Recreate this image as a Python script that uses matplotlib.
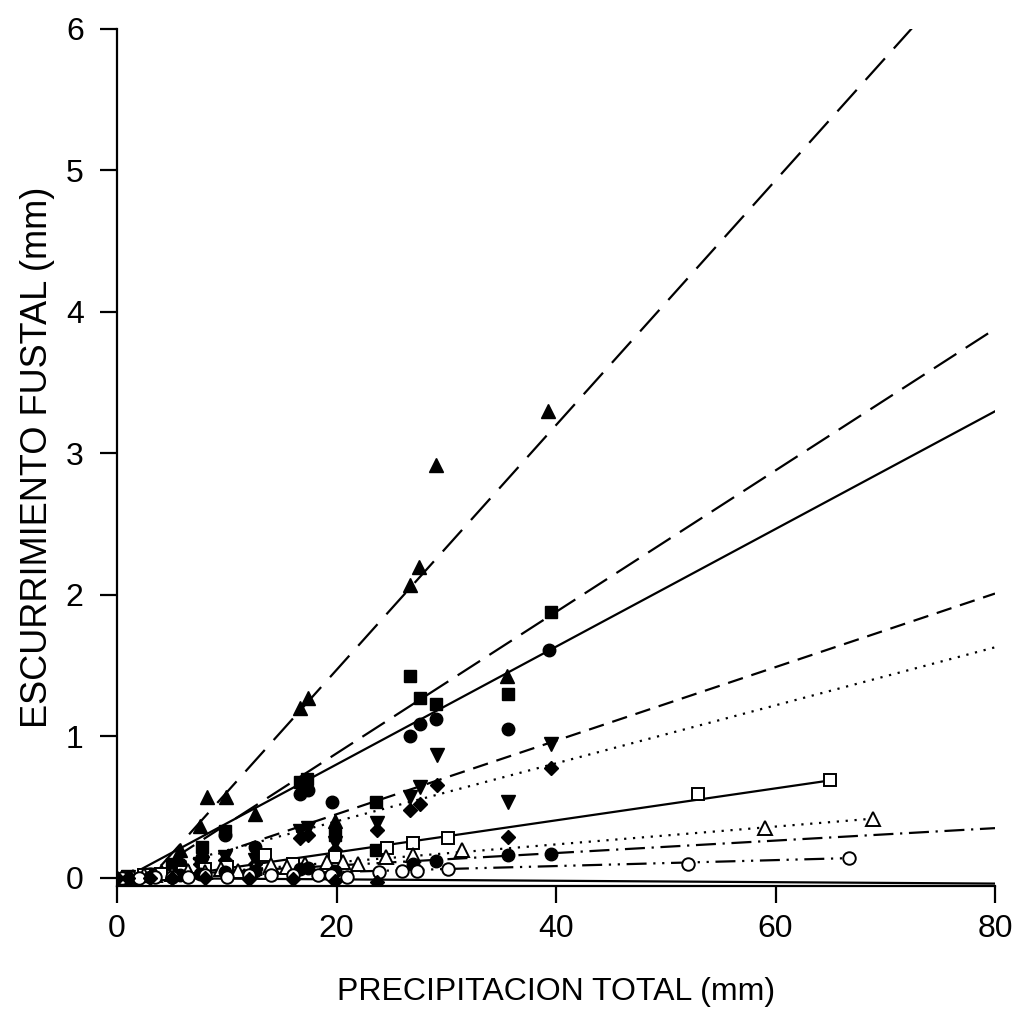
import matplotlib.pyplot as plt
import numpy as np

plt.rcParams['font.family'] = ['Liberation Sans', 'DejaVu Sans']

# ---- data ----
# filled triangles up, long dash
xa = [2, 4, 5.7, 7.6, 8.2, 9.9, 12.6, 16.7, 17.4, 19.9, 26.7, 27.5, 29.1, 35.5, 39.3]
ya = [0.02, 0.05, 0.2, 0.37, 0.57, 0.57, 0.45, 1.2, 1.27, 0.4, 2.07, 2.2, 2.92, 1.43, 3.3]
# filled squares, long dash
xb = [1, 3, 5, 7.7, 9.8, 16.7, 17.3, 19.9, 23.6, 23.6, 26.7, 27.6, 29.1, 35.6, 39.5]
yb = [0.01, 0.03, 0.1, 0.22, 0.33, 0.68, 0.7, 0.3, 0.54, 0.2, 1.43, 1.27, 1.23, 1.3, 1.88]
# filled circles, solid
xc = [1, 3, 5.7, 7.7, 9.8, 12.6, 16.7, 17.4, 19.6, 26.7, 27.6, 29.1, 35.6, 39.4]
yc = [0.01, 0.03, 0.1, 0.15, 0.3, 0.22, 0.59, 0.62, 0.54, 1.0, 1.09, 1.12, 1.05, 1.61]
# filled triangles down, medium dash
xd = [1, 3, 5.7, 7.6, 9.8, 12.6, 16.7, 17.4, 19.9, 23.7, 26.7, 27.6, 29.2, 35.6, 39.5]
yd = [0.01, 0.02, 0.05, 0.1, 0.15, 0.13, 0.33, 0.35, 0.25, 0.39, 0.57, 0.64, 0.87, 0.54, 0.95]
# filled diamonds, dotted
xe = [1, 3, 5.7, 7.6, 9.8, 12.6, 16.7, 17.4, 19.9, 23.7, 26.7, 27.6, 29.2, 35.6, 39.5]
ye = [0.01, 0.02, 0.04, 0.1, 0.13, 0.1, 0.28, 0.3, 0.2, 0.34, 0.48, 0.52, 0.66, 0.29, 0.78]
# open squares, solid
xf = [1, 2.5, 4, 6, 8, 10, 13.5, 16, 19.9, 24.6, 27, 30.2, 52.9, 65]
yf = [0.01, 0.02, 0.03, 0.04, 0.06, 0.08, 0.16, 0.1, 0.15, 0.21, 0.25, 0.28, 0.59, 0.69]
# open triangles, dotted
xg = [0.5, 1.5, 2.5, 3.5, 5, 6.5, 8, 9.5, 11, 12.5, 14, 15.5, 17.1, 19.1, 20.6, 22, 24.5, 27, 31.4, 59, 68.9]
yg = [0.0, 0.01, 0.02, 0.02, 0.03, 0.05, 0.04, 0.06, 0.05, 0.07, 0.09, 0.08, 0.1, 0.11, 0.11, 0.1, 0.15,
      0.16, 0.2, 0.35, 0.42]
# filled circles, dash-dot
xh = [1, 3, 5.7, 7.6, 9.8, 12.6, 16.7, 17.4, 19.9, 27, 29.1, 35.6, 39.5]
yh = [0.0, 0.01, 0.02, 0.03, 0.04, 0.05, 0.06, 0.07, 0.05, 0.1, 0.12, 0.16, 0.17]
# open circles, dash-dot-dot
xi = [0.5, 2, 3.5, 5, 6.5, 8, 10, 12, 14, 16, 18.3, 19.5, 21, 23.9, 26, 27.3, 30.2, 52, 66.7]
yi = [0, 0.0, 0.01, 0.01, 0.01, 0.02, 0.01, 0.02, 0.02, 0.02, 0.02, 0.02, 0.01, 0.04, 0.05, 0.05, 0.06,
      0.1, 0.14]
# filled diamonds near zero, solid
xj = [0, 1, 3, 5, 8, 12, 16, 19.9, 23.7]
yj = [0, 0, 0, 0, 0, -0.01, -0.01, -0.02, -0.03]

# fitted lines: slope, intercept, x range
slopes = [0.0865, 0.05, 0.0416, 0.026, 0.0205, 0.0113, 0.0063, 0.0044, 0.0021, -0.0005]
inters = [-0.26, -0.12, -0.03, -0.07, -0.01, -0.045, -0.015, 0.0, 0.0, 0.0]
xstart = [4, 5, 2, 5, 3, 1, 1, 1, 10, 0]
xend = [80, 80, 80, 80, 80, 65, 68.9, 80, 66.7, 80]

series = [(xa, ya), (xb, yb), (xc, yc), (xd, yd), (xe, ye),
          (xf, yf), (xg, yg), (xh, yh), (xi, yi), (xj, yj)]
markers = ['^', 's', 'o', 'v', 'D', 's', '^', 'o', 'o', 'D']
filled = [True, True, True, True, True, False, False, True, False, True]
dashes = [(13, 6), (12, 5), (), (7, 4), (1, 3), (), (1, 3), (9, 3, 1, 3), (9, 3, 1, 3, 1, 3), ()]
sizes = {'^': 9.5, 's': 8.5, 'o': 9, 'v': 9.5, 'D': 7.5}

fig = plt.figure(figsize=(10.15, 10.14), dpi=100)
ax = fig.add_axes([117/1015, 1-886/1014, 878/1015, 857/1014])

for k in range(len(series)):
    xx = np.linspace(xstart[k], xend[k], 50)
    ls = '-' if dashes[k] == () else (0, dashes[k])
    ax.plot(xx, slopes[k]*xx + inters[k], color='black', lw=1.6, linestyle=ls)
    x, y = series[k]
    ms = sizes[markers[k]]
    if filled[k]:
        ax.plot(x, y, markers[k], ms=ms, color='black', zorder=3)
    else:
        ax.plot(x, y, markers[k], ms=ms, mfc='white', mec='black', mew=1.4, zorder=3)

ax.set_xlim(0, 80)
ax.set_ylim(-0.057, 6)
ax.set_xticks([0, 20, 40, 60, 80])
ax.set_yticks([0, 1, 2, 3, 4, 5, 6])
ax.spines['top'].set_visible(False)
ax.spines['right'].set_visible(False)
ax.spines['left'].set_linewidth(1.6)
ax.spines['bottom'].set_linewidth(1.6)
ax.tick_params(direction='out', length=12, width=1.6, labelsize=23)
ax.tick_params(axis='x', pad=8)
ax.tick_params(axis='y', pad=12)
ax.set_xlabel('PRECIPITACION TOTAL (mm)', fontsize=23, labelpad=24)
ax.set_ylabel('ESCURRIMIENTO FUSTAL (mm)', fontsize=26, labelpad=8)

fig.savefig('out.png', dpi=100)
